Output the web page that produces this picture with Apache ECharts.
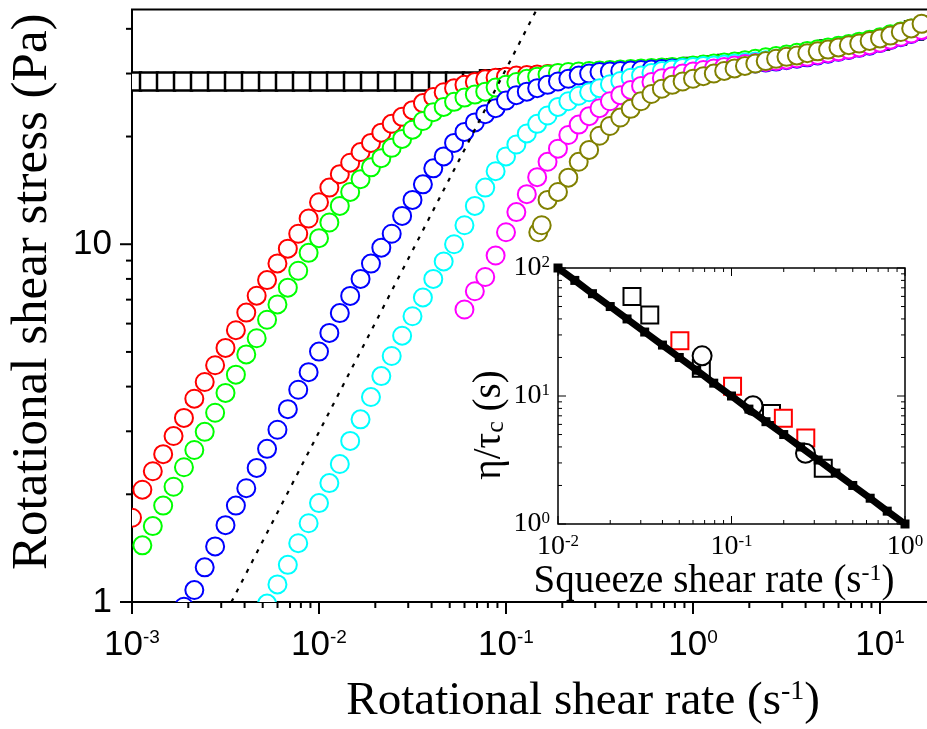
<!DOCTYPE html>
<html>
<head>
<meta charset="utf-8">
<script src="https://cdn.jsdelivr.net/npm/echarts@6/dist/echarts.min.js"></script>
<style>
html, body { margin: 0; padding: 0; background: #fff; }
#main { width: 927px; height: 729px; }
</style>
</head>
<body>
<div id="main"></div>
<script>
// rotational shear rate grid of the circle runs (s^-1)
var rates = [
  0.001, 0.001136, 0.001292, 0.001468, 0.001668, 0.001896, 0.002154, 0.002448, 0.002783, 0.003162, 0.003594, 0.004084, 0.004642, 0.005275, 0.005995, 0.006813, 0.007743, 0.008799,
  0.01, 0.01136, 0.01292, 0.01468, 0.01668, 0.01896, 0.02154, 0.02448, 0.02783, 0.03162, 0.03594, 0.04084, 0.04642, 0.05275, 0.05995, 0.06813, 0.07743, 0.08799,
  0.1, 0.1136, 0.1292, 0.1468, 0.1668, 0.1896, 0.2154, 0.2448, 0.2783, 0.3162, 0.3594, 0.4084, 0.4642, 0.5275, 0.5995, 0.6813, 0.7743, 0.8799,
  1, 1.136, 1.292, 1.468, 1.668, 1.896, 2.154, 2.448, 2.783, 3.162, 3.594, 4.084, 4.642, 5.275, 5.995, 6.813, 7.743, 8.799,
  10, 11.36, 12.92, 14.68, 16.68
];
// rotational shear stress (Pa), one value per rate above, null = no point
var redStress = [
  1.72, 2.06, 2.32, 2.59, 2.91, 3.27, 3.70, 4.12, 4.59, 5.13, 5.75, 6.44, 7.18, 7.94, 8.84, 9.72, 10.7, 11.8,
  13.1, 14.4, 15.7, 16.9, 18.1, 19.2, 20.5, 21.7, 22.7, 23.7, 24.8, 25.8, 26.6, 27.3, 27.9, 28.4, 28.9, 29.2,
  29.4, 29.6, 29.7, 29.8, 29.9, 30.0, 30.1, 30.2, 30.3, 30.4, 30.5, 30.6, 30.7, 30.8, 30.9, 31.0, 31.1, 31.2,
  31.3, 31.5, 31.7, 31.9, 32.1, 32.3, 32.6, 32.9, 33.2, 33.5, 33.8, 34.2, 34.6, 35.0, 35.4, 35.8, 36.2, 36.7,
  37.3, 38.0, 38.7, 39.5, 40.4
];
var greenStress = [
  null, 1.44, 1.63, 1.86, 2.10, 2.38, 2.66, 2.99, 3.38, 3.84, 4.32, 4.92, 5.46, 6.15, 6.79, 7.56, 8.43, 9.46,
  10.4, 11.5, 12.8, 14.0, 15.2, 16.4, 17.4, 18.6, 19.7, 20.9, 22.1, 23.4, 24.2, 25.0, 25.7, 26.2, 26.7, 27.4,
  27.9, 28.4, 29.0, 29.4, 29.8, 30.1, 30.3, 30.4, 30.5, 30.6, 30.7, 30.8, 30.9, 31.0, 31.1, 31.2, 31.3, 31.4,
  31.6, 31.8, 32.0, 32.2, 32.4, 32.7, 33.0, 33.3, 33.6, 33.9, 34.3, 34.7, 35.1, 35.5, 35.9, 36.3, 36.8, 37.3,
  37.9, 38.6, 39.3, 40.1, 40.9
];
var blueStress = [
  null, null, null, null, null, 0.97, 1.08, 1.25, 1.43, 1.64, 1.86, 2.08, 2.37, 2.68, 3.03, 3.46, 3.92, 4.39,
  5.01, 5.65, 6.42, 7.17, 8.0, 8.83, 9.78, 10.7, 12.0, 13.3, 14.7, 16.3, 17.6, 19.2, 20.6, 21.9, 23.1, 24.0,
  25.2, 26.1, 26.7, 27.3, 27.9, 28.5, 29.0, 29.6, 30.0, 30.3, 30.4, 30.5, 30.6, 30.7, 30.8, 30.9, 31.0, 31.1,
  31.2, 31.3, 31.4, 31.5, 31.6, 31.8, 32.0, 32.2, 32.4, 32.7, 33.0, 33.3, 33.7, 34.1, 34.5, 34.9, 35.4, 35.9,
  36.5, 37.2, 37.9, 38.7, 39.6
];
var cyanStress = [
  null, null, null, null, null, null, null, null, null, null, null, null, null, 0.99, 1.12, 1.27, 1.46, 1.66,
  1.89, 2.15, 2.43, 2.82, 3.24, 3.74, 4.28, 4.87, 5.55, 6.29, 7.10, 8.0, 8.95, 10.0, 11.3, 12.8, 14.4, 16.0,
  17.6, 19.0, 20.4, 21.7, 22.9, 24.2, 25.1, 26.0, 26.6, 27.3, 28.0, 28.6, 29.2, 29.6, 30.1, 30.5, 30.8, 31.1,
  31.3, 31.5, 31.6, 31.8, 32.0, 32.2, 32.4, 32.7, 33.0, 33.3, 33.6, 34.0, 34.4, 34.8, 35.2, 35.7, 36.2, 36.7,
  37.3, 38.0, 38.7, 39.5, 40.3
];
var magentaStress = [
  null, null, null, null, null, null, null, null, null, null, null, null, null, null, null, null, null, null,
  null, null, null, null, null, null, null, null, null, null, null, null, null, null, 6.57, 7.39, 8.1, 9.3,
  10.8, 12.3, 13.8, 15.4, 17.0, 18.5, 20.2, 21.6, 22.8, 24.0, 25.1, 26.1, 27.0, 27.7, 28.4, 29.1, 29.5, 30.0,
  30.4, 30.7, 31.0, 31.3, 31.6, 31.9, 32.1, 32.3, 32.5, 32.8, 33.1, 33.4, 33.8, 34.2, 34.6, 35.0, 35.5, 36.0,
  36.6, 37.3, 38.0, 38.8, 39.7
];
var oliveStress = [
  null, null, null, null, null, null, null, null, null, null, null, null, null, null, null, null, null, null,
  null, null, null, null, null, null, null, null, null, null, null, null, null, null, null, null, null, null,
  null, null, null, null, 13.3, 14.0, 15.35, 17.0, 18.35, 20.1, 21.4, 22.6, 23.9, 25.1, 26.3, 27.2, 27.9, 28.5,
  29.0, 29.5, 30.0, 30.5, 31.0, 31.5, 32.0, 32.5, 33.0, 33.4, 33.7, 34.2, 34.6, 35.0, 35.5, 36.0, 36.4, 37.0,
  37.6, 38.3, 39.2, 40.1, 41.3
];
// the olive run starts with two closely spaced points
var oliveLeadRates = [0.1488, 0.1552];
var oliveLeadStress = [10.8, 11.3];

// open squares run
var squareRates = [
  0.001, 0.001233, 0.00152, 0.001874, 0.00231, 0.002848, 0.003511, 0.004329, 0.005337, 0.006579, 0.008111,
  0.01, 0.01233, 0.0152, 0.01874, 0.0231, 0.02848, 0.03511, 0.04329, 0.05337, 0.06579, 0.08111,
  0.1, 0.1233, 0.152, 0.1874, 0.231, 0.2848, 0.3511, 0.4329, 0.5337, 0.6579, 0.8111,
  1, 1.233, 1.52, 1.874, 2.31, 2.848, 3.511, 4.329, 5.337, 6.579, 8.111,
  10, 12.33, 15.2, 18.74
];
var squareStress = [
  28.5, 28.5, 28.5, 28.5, 28.5, 28.5, 28.5, 28.5, 28.5, 28.5, 28.5,
  28.5, 28.5, 28.5, 28.5, 28.5, 28.5, 28.5, 28.5, 28.5, 28.5, 28.9,
  29.1, 29.3, 29.5, 29.7, 29.8, 30.0, 30.2, 30.4, 30.6, 30.8, 31.0,
  31.3, 31.6, 31.9, 32.2, 32.5, 33.0, 33.6, 34.3, 35.0, 35.6, 36.3,
  37.1, 38.3, 39.6, 40.8
];

// dotted guide line
var guideRates = [0.0034, 0.145];
var guideStress = [1.0, 45.0];

// inset: eta / tau_c against squeeze shear rate
var insetLineRates = [0.01, 0.0125, 0.0158, 0.02, 0.025, 0.0316, 0.04, 0.05, 0.063, 0.079, 0.1, 0.126, 0.158, 0.2, 0.25, 0.316, 0.4, 0.5, 0.63, 0.79, 1.0];
var insetLineRatio = [100, 80, 63, 50, 40, 31.6, 25, 20, 15.9, 12.6, 10, 7.9, 6.3, 5.0, 4.0, 3.16, 2.5, 2.0, 1.59, 1.26, 1.0];
var insetBlackSqRates = [0.0267, 0.0338, 0.067, 0.170, 0.338];
var insetBlackSqRatio = [60, 43, 16.5, 7.3, 2.73];
var insetRedSqRates = [0.0504, 0.1014, 0.199, 0.268];
var insetRedSqRatio = [27, 11.9, 6.7, 4.7];
var insetCircleRates = [0.0677, 0.133, 0.267];
var insetCircleRatio = [20.6, 8.4, 3.57];

// axis decades
var mainXDecades = [0.001, 0.01, 0.1, 1, 10];
var mainYDecades = [1, 10];
var insetXDecades = [0.01, 0.1, 1];
var insetYDecades = [1, 10, 100];
var minorSteps = [2, 3, 4, 5, 6, 7, 8, 9];

var SANS = 'Liberation Sans';
var SERIF = 'Liberation Serif';

function pairs(xs, ys) {
  var out = [];
  for (var i = 0; i < xs.length; i++) {
    if (ys[i] !== null) out.push([xs[i], ys[i]]);
  }
  return out;
}

function exponent(v) {
  var e = Math.log(v) / Math.LN10;
  var r = Math.round(e);
  return Math.abs(e - r) < 1e-6 ? r : null;
}

function powLabel(v) {
  var r = exponent(v);
  if (r === null) return '';
  return '{b|10}{s|' + r + '}';
}

// tick rows: [x, y, length, direction(0 down,1 left,2 up,3 right), width]
function decadeTicks(decades, maxV, major, minor) {
  var list = [];
  decades.forEach(function (d) {
    list.push([d, major]);
    minorSteps.forEach(function (m) {
      if (m * d <= maxV * 1.0001) list.push([m * d, minor]);
    });
  });
  return list;
}

var mainTicks = [];
decadeTicks(mainXDecades, 20, 12, 6).forEach(function (t) { mainTicks.push([t[0], 1, t[1], 0, 2]); });
decadeTicks(mainYDecades, 45.3, 12, 6).forEach(function (t) { mainTicks.push([0.001, t[0], t[1], 1, 2]); });

var insetTicks = [];
decadeTicks(insetXDecades, 1, 8, 4).forEach(function (t) {
  insetTicks.push([t[0], 1, t[1], 2, 1]);
  insetTicks.push([t[0], 100, t[1], 0, 1]);
});
decadeTicks(insetYDecades, 100, 8, 4).forEach(function (t) {
  insetTicks.push([0.01, t[0], t[1], 3, 1]);
  insetTicks.push([1, t[0], t[1], 1, 1]);
});

function tickSeries(idx, ticks) {
  return {
    type: 'custom',
    xAxisIndex: idx,
    yAxisIndex: idx,
    silent: true,
    clip: false,
    z: 10,
    data: ticks,
    encode: { x: 0, y: 1 },
    renderItem: function (params, api) {
      var p = api.coord([api.value(0), api.value(1)]);
      var len = api.value(2);
      var dir = api.value(3);
      var dx = [0, -1, 0, 1][dir];
      var dy = [1, 0, -1, 0][dir];
      return {
        type: 'line',
        shape: { x1: p[0], y1: p[1], x2: p[0] + dx * len, y2: p[1] + dy * len },
        style: { stroke: '#000', lineWidth: api.value(4) }
      };
    }
  };
}

// open markers drawn as clipped shapes so that points on the frame are cut like the original
function markers(idx, data, color, shape, size, lw) {
  return {
    type: 'custom',
    xAxisIndex: idx,
    yAxisIndex: idx,
    silent: true,
    clip: true,
    data: data,
    encode: { x: 0, y: 1 },
    renderItem: function (params, api) {
      var p = api.coord([api.value(0), api.value(1)]);
      var style = { fill: '#fff', stroke: color, lineWidth: lw };
      if (shape === 'circle') {
        return { type: 'circle', shape: { cx: p[0], cy: p[1], r: size / 2 }, style: style };
      }
      return { type: 'rect', shape: { x: p[0] - size / 2, y: p[1] - size / 2, width: size, height: size }, style: style };
    }
  };
}

var myChart = echarts.init(document.getElementById('main'));

var option = {
  animation: false,
  backgroundColor: '#fff',
  grid: [
    { left: 132, top: 9.5, right: -9.3, bottom: 127, show: true, borderColor: '#000', borderWidth: 2, containLabel: false, outerBoundsMode: 'none' },
    { left: 558, top: 268, right: 22, bottom: 205, show: true, borderColor: '#000', borderWidth: 1.5, containLabel: false, outerBoundsMode: 'none' }
  ],
  xAxis: [
    {
      type: 'log', gridIndex: 0, logBase: 10, min: 0.001, max: 20,
      axisLine: { show: false }, axisTick: { show: false }, splitLine: { show: false },
      axisLabel: {
        interval: 0, margin: 26, color: '#000', formatter: powLabel,
        rich: {
          b: { fontFamily: SANS, fontSize: 35, color: '#000' },
          s: { fontFamily: SANS, fontSize: 19, color: '#000', verticalAlign: 'top' }
        }
      },
      name: '{t|Rotational shear rate (s}{u|-1}{t|)}',
      nameLocation: 'middle', nameGap: 76,
      nameTextStyle: {
        padding: [0, 0, 0, 98],
        rich: {
          t: { fontFamily: SERIF, fontSize: 47, color: '#000' },
          u: { fontFamily: SERIF, fontSize: 28, color: '#000', verticalAlign: 'top' }
        }
      }
    },
    {
      type: 'log', gridIndex: 1, logBase: 10, min: 0.01, max: 1,
      axisLine: { show: false }, axisTick: { show: false }, splitLine: { show: false },
      axisLabel: {
        interval: 0, margin: 9, color: '#000', formatter: powLabel,
        rich: {
          b: { fontFamily: SERIF, fontSize: 28, color: '#000' },
          s: { fontFamily: SERIF, fontSize: 17, color: '#000', verticalAlign: 'top' }
        }
      },
      name: '{t|Squeeze shear rate (s}{u|-1}{t|)}',
      nameLocation: 'middle', nameGap: 32,
      nameTextStyle: {
        padding: [0, 35, 0, 0],
        rich: {
          t: { fontFamily: SERIF, fontSize: 39, color: '#000' },
          u: { fontFamily: SERIF, fontSize: 24, color: '#000', verticalAlign: 'top' }
        }
      }
    }
  ],
  yAxis: [
    {
      type: 'log', gridIndex: 0, logBase: 10, min: 1, max: 45.3,
      axisLine: { show: false }, axisTick: { show: false }, splitLine: { show: false },
      axisLabel: {
        interval: 0, margin: 20, color: '#000', fontFamily: SANS, fontSize: 35,
        formatter: function (v) {
          var r = exponent(v);
          return r === null ? '' : String(Math.round(Math.pow(10, r)));
        }
      },
      name: 'Rotational shear stress (Pa)',
      nameLocation: 'middle', nameGap: 74,
      nameTextStyle: { fontFamily: SERIF, fontSize: 51, color: '#000', padding: [0, 0, 0, 28] }
    },
    {
      type: 'log', gridIndex: 1, logBase: 10, min: 1, max: 100,
      axisLine: { show: false }, axisTick: { show: false }, splitLine: { show: false },
      axisLabel: {
        interval: 0, margin: 8, color: '#000', formatter: powLabel,
        rich: {
          b: { fontFamily: SERIF, fontSize: 28, color: '#000' },
          s: { fontFamily: SERIF, fontSize: 17, color: '#000', verticalAlign: 'top' }
        }
      },
      name: '{t|\u03b7/\u03c4}{c|c}{t| (s)}',
      nameLocation: 'middle', nameGap: 46,
      nameTextStyle: {
        padding: [0, 58, 0, 0],
        rich: {
          t: { fontFamily: SERIF, fontSize: 39, color: '#000' },
          c: { fontFamily: SERIF, fontSize: 26, color: '#000', verticalAlign: 'bottom' }
        }
      }
    }
  ],
  series: [
    markers(0, pairs(squareRates, squareStress), '#000', 'rect', 18, 2.5),
    markers(0, pairs(rates, redStress), '#ff0000', 'circle', 18, 2),
    markers(0, pairs(rates, greenStress), '#00ff00', 'circle', 18, 2),
    markers(0, pairs(rates, blueStress), '#0000ff', 'circle', 18, 2),
    markers(0, pairs(rates, cyanStress), '#00ffff', 'circle', 18, 2),
    markers(0, pairs(rates, magentaStress), '#ff00ff', 'circle', 18, 2),
    markers(0, pairs(oliveLeadRates, oliveLeadStress).concat(pairs(rates, oliveStress)), '#808000', 'circle', 18, 2),
    {
      name: 'guide',
      type: 'line', xAxisIndex: 0, yAxisIndex: 0,
      data: pairs(guideRates, guideStress),
      symbol: 'none',
      lineStyle: { color: '#000', width: 2.2, type: [4, 7] },
      emphasis: { disabled: true }
    },
    markers(1, pairs(insetBlackSqRates, insetBlackSqRatio), '#000', 'rect', 17, 2),
    markers(1, pairs(insetRedSqRates, insetRedSqRatio), '#ff0000', 'rect', 17, 2),
    {
      name: 'inset line',
      type: 'line', xAxisIndex: 1, yAxisIndex: 1,
      data: pairs(insetLineRates, insetLineRatio),
      symbol: 'rect', symbolSize: 9, showSymbol: true, clip: false,
      itemStyle: { color: '#000' },
      lineStyle: { color: '#000', width: 7 },
      emphasis: { disabled: true }
    },
    markers(1, pairs(insetCircleRates, insetCircleRatio), '#000', 'circle', 19, 2),
    tickSeries(0, mainTicks),
    tickSeries(1, insetTicks)
  ]
};

myChart.clear();
myChart.setOption(option);
</script>
</body>
</html>
